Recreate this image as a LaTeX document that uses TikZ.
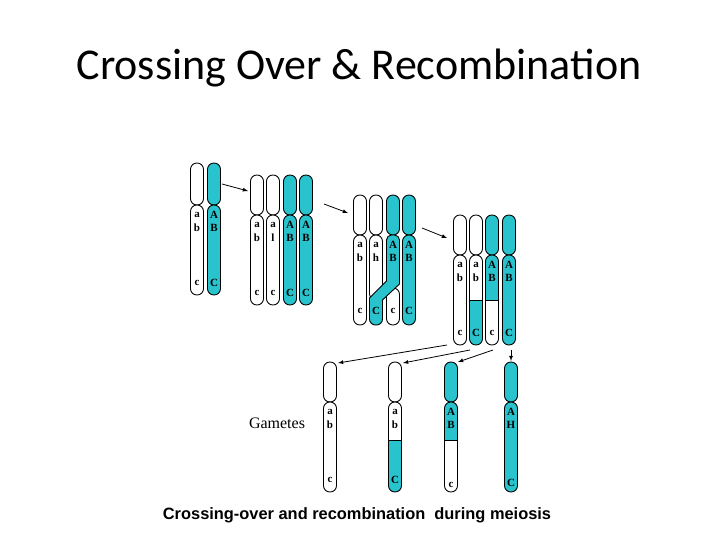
\documentclass[tikz,border=0pt]{standalone}
\usepackage{fontspec}
\setmainfont{Liberation Serif}
\newfontfamily\carlitofont{Carlito}
\newfontfamily\lsans{Liberation Sans}
\definecolor{cy}{RGB}{40,195,205}
\tikzset{ch/.style={draw,line width=0.9pt,rounded corners=6.4pt}}
% chromosome: x top cen bot fillupper filllower
\newcommand\chrom[6]{\draw[ch,fill=#5] (#1-6.5,#2) rectangle (#1+6.5,#3);
 \draw[ch,fill=#6] (#1-6.5,#3) rectangle (#1+6.5,#4);}
% split lower arm: x cen bot splitY upperpartcolor lowerpartcolor
\newcommand\splitlow[6]{\begin{scope}\clip[rounded corners=6.4pt] (#1-6.5,#2) rectangle (#1+6.5,#3);
 \fill[#5] (#1-7,#2) rectangle (#1+7,#4); \fill[#6] (#1-7,#4) rectangle (#1+7,#3);\end{scope}
 \draw[line width=0.9pt] (#1-6.5,#4) -- (#1+6.5,#4);
 \draw[ch] (#1-6.5,#2) rectangle (#1+6.5,#3);}
\newcommand\lab[5]{\node[lbl] at (#1,#2+10) {#3}; \node[lbl] at (#1,#2+23) {#4}; \node[lbl] at (#1,#5) {c};}
\newcommand\labU[5]{\node[lbl] at (#1,#2+10) {#3}; \node[lbl] at (#1,#2+23) {#4}; \node[lbl] at (#1,#5) {C};}
\begin{document}
\begin{tikzpicture}[x=1pt,y=-1pt,lbl/.style={font=\bfseries\fontsize{11}{11}\selectfont,inner sep=0pt},
 arr/.style={-latex,line width=0.8pt}]
\useasboundingbox (0,0) rectangle (720,540);
\node[font=\carlitofont\fontsize{44}{48}\selectfont] (title) at (359,68) {Crossing Over \& Recombination};
% group 1
\chrom{197}{163}{205}{295}{white}{white}
\chrom{214}{163}{205}{295}{cy}{cy}
\lab{197}{205}{a}{b}{283}\labU{214}{205}{A}{B}{283}
% group 2
\chrom{257}{175}{215}{305}{white}{white}
\chrom{273}{175}{215}{305}{white}{white}
\chrom{290}{175}{215}{305}{cy}{cy}
\chrom{306}{175}{215}{305}{cy}{cy}
\lab{257}{215}{a}{b}{293}\lab{273}{215}{a}{l}{293}\labU{290}{215}{A}{B}{293}\labU{306}{215}{A}{B}{293}
% group 3
\chrom{360}{195}{235}{325}{white}{white}
\draw[ch,fill=white] (369.5,195) rectangle (382.5,235);
\draw[ch,fill=white] (369.5,235) rectangle (382.5,300);
\draw[ch,fill=white] (386.5,288) rectangle (399.5,325);
\draw[ch,fill=cy] (386.5,195) rectangle (399.5,235);
\draw[fill=cy,line width=0.9pt] (386.5,241) [rounded corners=5pt] -- (386.5,235) -- (399.5,235) [sharp corners] -- (399.5,284) -- (382.5,300) [rounded corners=6pt] -- (382.5,325) -- (369.5,325) [sharp corners] -- (369.5,298) -- (386.5,281) -- cycle;
\chrom{409}{195}{235}{325}{cy}{cy}
\node[lbl] at (360,245) {a};\node[lbl] at (360,258) {b};\node[lbl] at (360,311) {c};
\node[lbl] at (376,245) {a};\node[lbl] at (376,258) {h};\node[lbl] at (376,311) {C};
\node[lbl] at (393,245) {A};\node[lbl] at (393,258) {B};\node[lbl] at (393,311) {c};
\labU{409}{235}{A}{B}{311}
% group 4
\chrom{460}{215}{255}{345}{white}{white}
\draw[ch,fill=white] (469.5,215) rectangle (482.5,255);
\splitlow{476}{255}{345}{300}{white}{cy}
\draw[ch,fill=cy] (485.5,215) rectangle (498.5,255);
\splitlow{492}{255}{345}{300}{cy}{white}
\chrom{509}{215}{255}{345}{cy}{cy}
\lab{460}{255}{a}{b}{333}\node[lbl] at (476,265) {a};\node[lbl] at (476,278) {b};\node[lbl] at (476,333) {C};
\node[lbl] at (492,265) {A};\node[lbl] at (492,278) {B};\node[lbl] at (492,333) {c};\labU{509}{255}{A}{B}{333}
% gametes
\chrom{330}{362}{402}{492}{white}{white}
\draw[ch,fill=white] (388.5,362) rectangle (401.5,402);
\splitlow{395}{402}{492}{440}{white}{cy}
\draw[ch,fill=cy] (444.5,362) rectangle (457.5,402);
\splitlow{451}{402}{492}{440}{cy}{white}
\chrom{511}{362}{402}{492}{cy}{cy}
\lab{330}{402}{a}{b}{480}\node[lbl] at (395,412) {a};\node[lbl] at (395,425) {b};\node[lbl] at (395,480) {C};
\node[lbl] at (451,412) {A};\node[lbl] at (451,425) {B};\node[lbl] at (451,485) {c};\labU{511}{402}{A}{H}{483}
\node[font=\fontsize{16}{16}\selectfont] (gam) at (277,423) {Gametes};
% arrows
\coordinate (a1) at (222,184);\coordinate (b1) at (248,191);
\coordinate (a2) at (324,204);\coordinate (b2) at (348,213);
\coordinate (a3) at (422,228);\coordinate (b3) at (447,238);
\coordinate (s1) at (447,345);\coordinate (t1) at (338,363);
\coordinate (s2) at (470,350);\coordinate (t2) at (403,363);
\coordinate (s3) at (493,350);\coordinate (t3) at (458,362);
\coordinate (s4) at (511,350);\coordinate (t4) at (511,361);
\foreach \p/\q in {a1/b1,a2/b2,a3/b3,s1/t1,s2/t2,s3/t3,s4/t4} \draw[arr] (\p) -- (\q);
\node[font=\lsans\bfseries\fontsize{16.4}{17}\selectfont] (cap) at (357,515) {Crossing-over and recombination\ \ during meiosis};
\end{tikzpicture}
\end{document}
